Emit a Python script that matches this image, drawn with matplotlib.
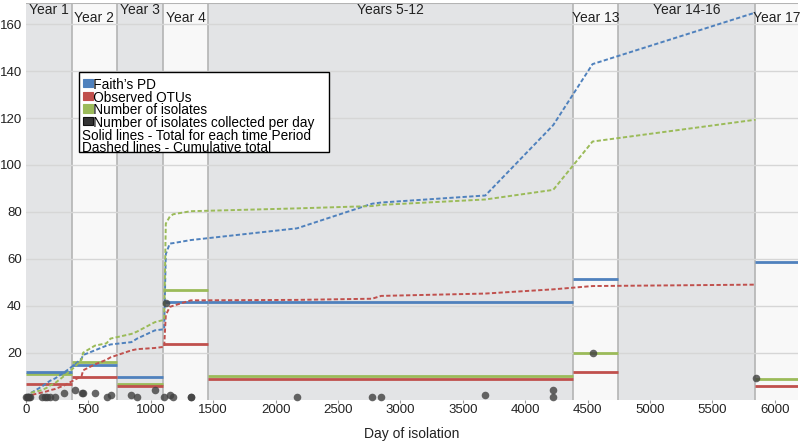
import matplotlib
matplotlib.use('Agg')
import matplotlib.pyplot as plt
from matplotlib.patches import Rectangle

plt.rcParams['font.family'] = ['Liberation Sans', 'DejaVu Sans']

BLUE = '#4f81bd'
RED = '#c0504d'
GREEN = '#9bbb59'

# time periods (days)
period_labels = ['Year 1', 'Year 2', 'Year 3', 'Year 4', 'Years 5-12',
                 'Year 13', 'Year 14-16', 'Year 17']
period_start = [0, 365, 730, 1095, 1460, 4380, 4745, 5840]
period_end = [365, 730, 1095, 1460, 4380, 4745, 5840, 6205]
label_low = [False, True, False, True, False, True, False, True]

# totals for each time period (None = no samples)
faith_total = [11.8, 14.8, 9.8, 41.6, 41.6, 51.6, None, 58.5]
otu_total = [6.8, 9.8, 5.6, 23.6, 8.9, 11.8, None, 5.7]
isol_total = [10.7, 16, 6.8, 46.7, 10, 20, None, 8.8]

# isolates collected per day
day_iso = [0, 8, 15, 22, 30, 125, 150, 170, 192, 232, 304, 392, 445, 458, 552,
           645, 677, 845, 890, 1032, 1107, 1120, 1152, 1179, 1320, 1320,
           2171, 2773, 2845, 3680, 4224, 4224, 4539, 5845]
n_iso = [1, 1, 1, 1, 1, 1, 1, 1, 1, 1, 3, 4, 3, 3, 3,
         1, 2, 2, 1, 4, 1, 41, 2, 1, 1, 1,
         1, 1, 1, 2, 4, 1, 20, 9]

# cumulative totals
cum_day = [0, 20, 45, 125, 165, 192, 232, 304, 392, 445, 458, 552, 645, 677,
           845, 890, 1032, 1107, 1120, 1152, 1179, 1320, 2171, 2773, 2845,
           3680, 4224, 4539, 5845]
faith_cum = [1, 2, 3, 5.5, 7, 8, 9, 11.5, 15, 17.5, 19, 21, 23, 23.5,
             24.5, 26, 29.5, 30, 62, 66.5, 66.7, 68, 73, 83.5, 84,
             87, 117, 143, 165]
otu_cum = [1, 1.5, 2, 3, 3.5, 4, 4.5, 6, 8.5, 10, 12.5, 15, 17, 18,
           21, 21.5, 22, 22.5, 36, 39.5, 40, 42.3, 42.5, 43, 44.2,
           45.2, 47, 48.4, 49]
isol_cum = [1, 2, 3, 4, 5, 6, 7, 10, 14, 17, 20, 23, 24, 26,
            28, 29, 33, 34, 75, 78, 79, 80.3, 81.5, 82.5, 83,
            85.3, 89.4, 110, 119.3]

fig = plt.figure(figsize=(8, 4.44), dpi=100)
ax = fig.add_axes([0.0325, 0.100, 0.965, 0.893])

# period bands
for i, (s, e) in enumerate(zip(period_start, period_end)):
    col = '#e3e4e6' if i % 2 == 0 else '#f8f8f8'
    ax.axvspan(s, e, color=col, zorder=0, lw=0)
    if i > 0:
        ax.axvline(s, color='#b4b4b4', lw=1.2, zorder=1)
    yl = 162.6 if label_low[i] else 166.0
    ax.text((s + min(e, 6185)) / 2, yl, period_labels[i], ha='center',
            va='center', fontsize=10, color='#222222', zorder=5)

for yv in range(20, 161, 20):
    ax.axhline(yv, color='#d6d6d6', lw=1, zorder=1)
ax.axhline(169, color='#b4b4b4', lw=1.5, zorder=1)

# solid lines: totals per period
for vals, col in [(isol_total, GREEN), (faith_total, BLUE), (otu_total, RED)]:
    for s, e, v in zip(period_start, period_end, vals):
        if v is not None:
            ax.hlines(v, s, e, color=col, lw=2, zorder=3)

# dashed lines: cumulative
ax.plot(cum_day, faith_cum, color=BLUE, lw=1.4, ls=(0, (2.2, 1.2)), zorder=4)
ax.plot(cum_day, otu_cum, color=RED, lw=1.4, ls=(0, (2.2, 1.2)), zorder=4)
ax.plot(cum_day, isol_cum, color=GREEN, lw=1.4, ls=(0, (2.2, 1.2)), zorder=4)

# isolates per day
ax.scatter(day_iso, n_iso, s=30, color='#404040', alpha=0.8, lw=0,
           zorder=6, clip_on=False)

ax.set_xlim(0, 6185)
ax.set_ylim(0, 169)
ax.set_xticks(range(0, 6001, 500))
ax.set_yticks(range(20, 161, 20))
ax.tick_params(axis='x', length=2, color='#999999', labelsize=9.5,
               labelcolor='#222222', pad=1)
ax.tick_params(axis='y', length=0, labelsize=9.5, labelcolor='#222222', pad=3)
for sp in ax.spines.values():
    sp.set_visible(False)
ax.set_xlabel('Day of isolation', fontsize=10, color='#222222', labelpad=8)

# legend box drawn by hand
def px_to_ax(p):
    return (399.5 - p) / 396.5

bx, bw = 0.0685, 0.3245
by = px_to_ax(151.7)
bh = px_to_ax(71.7) - by
ax.add_patch(Rectangle((bx, by), bw, bh, transform=ax.transAxes,
                       facecolor='white', edgecolor='black', lw=1, zorder=7))
leg_colors = [BLUE, RED, GREEN, '#333333']
leg_labels = ["Faith\u2019s PD", 'Observed OTUs', 'Number of isolates',
              'Number of isolates collected per day']
notes = ['Solid lines - Total for each time Period',
         'Dashed lines - Cumulative total']
row_px = [82.7, 95.4, 108.1, 120.8]
for k, col in enumerate(leg_colors):
    yc = px_to_ax(row_px[k])
    ax.add_patch(Rectangle((bx + 0.005, yc - 0.011), 0.013, 0.021,
                           transform=ax.transAxes, facecolor=col,
                           edgecolor='#111111' if k == 3 else col,
                           lw=0.8, zorder=8))
block = '\n'.join(['   ' + s for s in leg_labels] + notes)
ax.text(bx + 0.004, px_to_ax(116.5), block, transform=ax.transAxes,
        va='center', ha='left', fontsize=9.8, linespacing=0.88, zorder=8)

fig.savefig('out.png', dpi=100)
